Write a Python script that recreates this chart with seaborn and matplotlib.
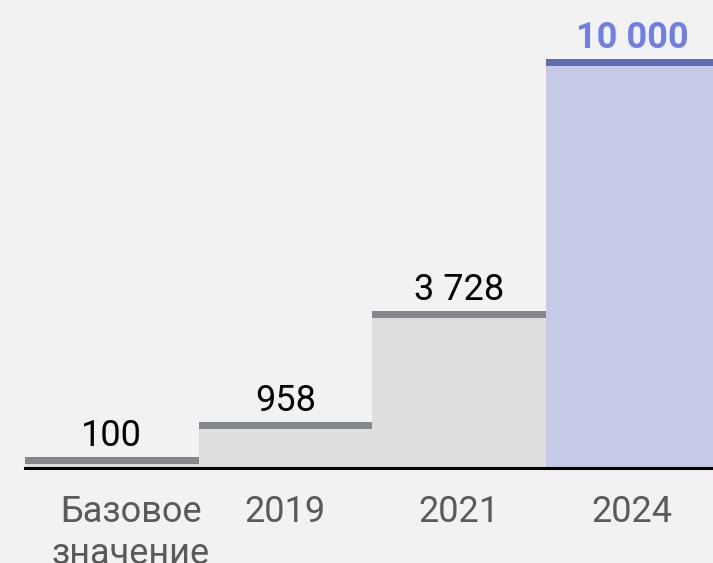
import numpy as np
import pandas as pd
import seaborn as sns
import matplotlib.pyplot as plt
from matplotlib.transforms import ScaledTranslation

# Data
categories = ['Базовое\nзначение', '2019', '2021', '2024']
values = [100, 958, 3728, 10000]
labels = ['100', '958', '3 728', '10 000']

fill_colors = ['#dedede', '#dedede', '#dedede', '#c6cae6']
cap_colors = ['#86878b', '#86878b', '#86878b', '#5f6bb3']
label_colors = ['#000000', '#000000', '#000000', '#6f7fe6']
label_weights = ['normal', 'normal', 'normal', 'bold']

sns.set_style('white')
plt.rcParams['font.family'] = ['Roboto', 'DejaVu Sans']

df = pd.DataFrame({'cat': categories, 'val': values})

fig = plt.figure(figsize=(7.13, 5.63), dpi=100)
fig.patch.set_facecolor('#f2f2f2')
ax = fig.add_axes([25 / 713, 95 / 563, 688 / 713, 468 / 563])
ax.set_facecolor('#f2f2f2')

sns.barplot(data=df, x='cat', y='val', hue='cat', palette=fill_colors,
            width=1.0, saturation=1, legend=False, linewidth=0, ax=ax)

ymax = 11640
ax.set_ylim(0, ymax)
ax.set_xlim(-0.5, 3.465)

# thick line on top of each bar (7 px)
cap_h = 7 * ymax / 468
ax.bar(range(len(values)), [cap_h] * len(values), bottom=values, width=1.0,
       color=cap_colors, linewidth=0)

for i, (v, lab) in enumerate(zip(values, labels)):
    ax.annotate(lab, (i, v), xytext=(0, 13), textcoords='offset points',
                ha='center', va='baseline', fontsize=26,
                color=label_colors[i], fontweight=label_weights[i],
                annotation_clip=False)

ax.set_xlabel('')
ax.set_ylabel('')
ax.set_yticks([])
ax.tick_params(axis='x', length=0, pad=19, labelsize=26, labelcolor='#5a5a5a')
# first label sits a bit to the right in the original
first = ax.get_xticklabels()[0]
first.set_transform(first.get_transform() + ScaledTranslation(19 / 100, 0, fig.dpi_scale_trans))

for s in ['top', 'right', 'left']:
    ax.spines[s].set_visible(False)
ax.spines['bottom'].set_color('black')
ax.spines['bottom'].set_linewidth(2.2)

fig.savefig('out.png', dpi=100, facecolor=fig.get_facecolor())
